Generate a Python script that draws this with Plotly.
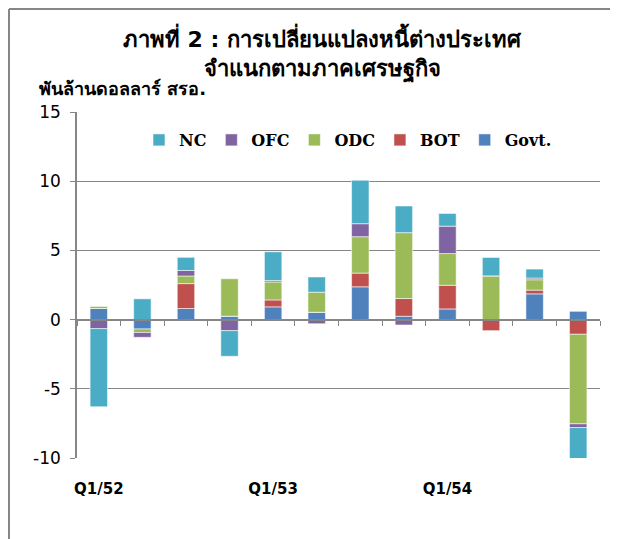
import plotly.graph_objects as go

quarters = ["Q1/52", "Q2/52", "Q3/52", "Q4/52",
            "Q1/53", "Q2/53", "Q3/53", "Q4/53",
            "Q1/54", "Q2/54", "Q3/54", "Q4/54"]
tick_quarters = ["Q1/52", "Q1/53", "Q1/54"]
y_tick_values = [-10, -5, 0, 5, 10, 15]
y_tick_labels = ["-10", "-5", "0", "5", "10", "15"]

govt = [0.80, -0.68, 0.80, 0.25, 0.92, 0.53, 2.37, 0.24, 0.77, 0.00, 1.86, 0.60]
bot = [0.00, 0.00, 1.80, 0.00, 0.50, 0.00, 0.99, 1.28, 1.71, -0.80, 0.27, -1.06]
odc = [0.15, -0.25, 0.55, 2.70, 1.30, 1.45, 2.63, 4.76, 2.29, 3.16, 0.75, -6.47]
ofc = [-0.65, -0.35, 0.40, -0.80, 0.10, -0.30, 0.94, -0.39, 1.98, 0.00, 0.12, -0.27]
nc = [-5.65, 1.50, 0.95, -1.85, 2.08, 1.10, 3.14, 1.93, 0.92, 1.33, 0.65, -2.34]

series = [("Govt.", govt, "#4F81BD"),
          ("BOT", bot, "#C0504D"),
          ("ODC", odc, "#9BBB59"),
          ("OFC", ofc, "#8064A2"),
          ("NC", nc, "#4BACC6")]

# the page body has an 8px margin; figure pixel = page pixel - 8
OFF = 8
W, H = 610, 531
L, T = 77 - OFF, 112 - OFF
R = W - (600 - OFF)
B = H - (458 - OFF)
pw, ph = W - L - R, H - T - B


def px_x(x):
    return (x - OFF - L) / pw


def px_y(y):
    return 1 + (T - (y - OFF)) / ph


fig = go.Figure()
for name, vals, color in series:
    fig.add_trace(go.Bar(
        x=quarters, y=vals, name=name,
        marker=dict(color=color, line=dict(color="rgba(255,255,255,0.55)", width=1)),
        hoverinfo="x+y+name",
    ))

# invisible trace that carries the category axis drawn at y = 0
fig.add_trace(go.Scatter(x=quarters, y=[0] * len(quarters), xaxis="x2",
                         mode="lines", line=dict(width=0),
                         showlegend=False, hoverinfo="skip"))

grey = "#868686"
xrange = [-0.5, len(quarters) - 0.5]
fig.update_layout(
    width=W, height=H,
    margin=dict(l=L, r=R, t=T, b=B, autoexpand=False),
    paper_bgcolor="white", plot_bgcolor="white",
    barmode="relative", bargap=0.6,
    font=dict(family="DejaVu Sans", color="black"),
    title=dict(
        text="ภาพที่ 2 : การเปลี่ยนแปลงหนี้ต่างประเทศ<br>จำแนกตามภาคเศรษฐกิจ",
        xref="container", yref="container",
        x=(322 - OFF) / W, y=1 - (47 - OFF) / H, xanchor="center", yanchor="middle",
        font=dict(size=22, weight="bold", color="black"),
    ),
    xaxis=dict(
        type="category", categoryorder="array", categoryarray=quarters,
        range=xrange, automargin=False,
        tickvals=tick_quarters, ticktext=tick_quarters,
        showline=False, ticks="", showgrid=False, zeroline=False,
        tickfont=dict(size=15, weight="bold", color="black"),
        ticklabelstandoff=20,
    ),
    xaxis2=dict(
        type="category", categoryorder="array", categoryarray=quarters,
        range=xrange, automargin=False,
        overlaying="x", anchor="free", position=10 / 25, side="bottom",
        showline=True, linecolor=grey, linewidth=2,
        ticks="outside", ticklen=5, tickcolor=grey, tickwidth=1,
        tickson="boundaries", showticklabels=False, showgrid=False,
        zeroline=False,
    ),
    yaxis=dict(
        range=[-10, 15], tickvals=y_tick_values, ticktext=y_tick_labels,
        automargin=False,
        showline=True, linecolor=grey, linewidth=1.5,
        ticks="outside", ticklen=5, tickcolor=grey,
        showgrid=True, gridcolor=grey, gridwidth=1,
        zeroline=False,
        tickfont=dict(size=17, color="black"),
        ticklabelstandoff=6,
    ),
    legend=dict(
        orientation="h", traceorder="reversed",
        x=px_x(348), y=px_y(140), xanchor="center", yanchor="middle",
        font=dict(family="DejaVu Serif", size=16, weight="bold", color="black"),
        itemwidth=30, bgcolor="rgba(0,0,0,0)",
    ),
    annotations=[dict(
        text="พันล้านดอลลาร์ สรอ.", xref="paper", yref="paper",
        x=px_x(37), y=px_y(88), xanchor="left", yanchor="middle",
        showarrow=False, font=dict(size=18, weight="bold", color="black"),
    )],
    shapes=[
        dict(type="line", xref="paper", yref="paper", layer="below",
             x0=px_x(OFF + 1), x1=px_x(640), y0=px_y(OFF + 1), y1=px_y(OFF + 1),
             line=dict(color=grey, width=2)),
        dict(type="line", xref="paper", yref="paper", layer="below",
             x0=px_x(OFF + 1), x1=px_x(OFF + 1), y0=px_y(OFF + 1), y1=px_y(600),
             line=dict(color=grey, width=2)),
    ],
)

fig.write_html("out.html")
